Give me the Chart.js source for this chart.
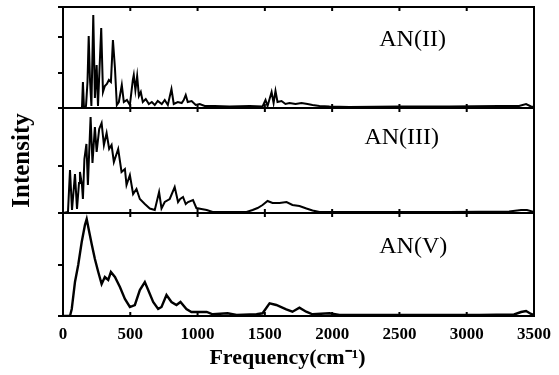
<!DOCTYPE html>
<html>
<head>
<meta charset="utf-8">
<script src="https://cdn.jsdelivr.net/npm/chart.js@4"></script>
<style>
  html, body { margin: 0; padding: 0; background: #fff; }
  #wrap { width: 559px; height: 375px; }
</style>
</head>
<body>
<div id="wrap"><canvas id="spectra"></canvas></div>
<script>
// panel names, top to bottom
const panelLabels = ['AN(II)', 'AN(III)', 'AN(V)'];

// AN(II) - frequency (cm-1) / intensity (arb.)
const anIIFreq = [0, 89, 141, 148, 156, 171, 182, 191, 200, 211, 225, 237, 250, 260, 284, 297, 311, 326, 341, 356,
  371, 386, 400, 415, 437, 452, 475, 497, 519, 526, 538, 551, 564, 578, 593, 615, 638, 660, 682, 704,
  734, 756, 779, 806, 823, 853, 882, 897, 912, 927, 956, 986, 1016, 1053, 1127, 1238, 1387, 1483, 1505, 1520,
  1550, 1565, 1579, 1594, 1624, 1653, 1683, 1728, 1772, 1817, 1854, 1906, 1980, 2128, 2499, 2870, 3240, 3389, 3441, 3478, 3500];
const anIIInt = [0, 0, 0, 26, 0, 2, 26, 72, 30, 2, 93, 10, 43, 2, 80, 16, 22, 24, 28, 26,
  68, 40, 3, 6, 23, 6, 8, 3, 28, 33, 18, 32, 12, 16, 6, 9, 4, 6, 3, 7,
  4, 8, 3, 19, 4, 6, 5, 8, 13, 6, 7, 3, 4, 2, 2, 1.5, 2, 1.5, 8, 2,
  16, 5, 17, 6, 7, 4, 5, 4, 5, 4, 3, 2, 1.5, 1, 1.5, 1.5, 2, 2, 4, 1.5, 1];

// AN(III)
const anIIIFreq = [0, 37, 52, 67, 89, 104, 119, 126, 141, 148, 159, 174, 185, 205, 219, 237, 250, 269, 287, 304,
  324, 343, 361, 378, 410, 435, 460, 472, 497, 521, 546, 571, 608, 645, 682, 714, 732, 756, 793, 830,
  855, 871, 892, 912, 929, 966, 991, 1028, 1068, 1112, 1238, 1364, 1409, 1446, 1483, 1520, 1557, 1609, 1661, 1705,
  1757, 1809, 1854, 1906, 2128, 2870, 3315, 3404, 3448, 3500];
const anIIIInt = [0, 1, 43, 3, 39, 4, 30, 41, 28, 14, 54, 69, 28, 96, 50, 86, 61, 84, 90, 68,
  80, 64, 68, 51, 64, 41, 44, 28, 38, 19, 24, 14, 9, 4.5, 3, 21, 4.5, 11, 14, 26,
  11, 14, 16, 9, 11, 13, 5, 4, 3, 1, 1, 1, 3, 5, 8, 12, 10, 10, 11, 8,
  7, 4.5, 2.5, 1, 1, 1, 1.5, 3, 3, 1];

// AN(V)
const anVFreq = [0, 52, 65, 89, 113, 139, 163, 176, 195, 213, 237, 262, 287, 311, 336, 356, 386, 423, 460, 497,
  534, 571, 608, 633, 670, 707, 732, 769, 806, 843, 873, 917, 954, 1016, 1068, 1112, 1223, 1290, 1438, 1483,
  1535, 1585, 1659, 1705, 1757, 1807, 1854, 1980, 2054, 2499, 3092, 3352, 3404, 3441, 3478, 3500];
const anVInt = [0, 0, 7, 34, 51, 74, 91, 97, 84, 72, 57, 44, 32, 39, 36, 44, 39, 29, 17, 9,
  11, 26, 34, 26, 14, 7, 9, 21, 14, 11, 14, 7, 4, 4, 4, 1.7, 2.7, 1, 1.7, 2.7,
  12.7, 11, 6.7, 4.3, 8.3, 4.3, 1.7, 2.7, 1, 1, 1, 1.5, 4, 5, 2, 1];

const serif = 'Liberation Serif';
const toPoints = (fx, fy) => fx.map((f, i) => ({x: f, y: fy[i]}));

// frame + inward x ticks + panel names
const framePlugin = {
  id: 'frames',
  afterDraw(chart) {
    const {ctx, chartArea: a, scales} = chart;
    const xs = scales.x;
    const labelX = [2350, 2240, 2350];
    const labelDy = [33, 30, 34];
    ctx.save();
    ctx.strokeStyle = '#000';
    ctx.fillStyle = '#000';
    ctx.lineWidth = 2;
    ['y1', 'y2', 'y3'].forEach((id, i) => {
      const s = scales[id];
      ctx.strokeRect(a.left, s.top, a.right - a.left, s.bottom - s.top);
      ctx.beginPath();
      xs.ticks.forEach(t => {
        const px = xs.getPixelForValue(t.value);
        ctx.moveTo(px, s.top);
        ctx.lineTo(px, s.top + 4);
        ctx.moveTo(px, s.bottom);
        ctx.lineTo(px, s.bottom - 4);
      });
      ctx.stroke();
      ctx.font = '24px "' + serif + '"';
      ctx.textBaseline = 'middle';
      ctx.fillText(panelLabels[i], xs.getPixelForValue(labelX[i]), s.top + labelDy[i]);
    });
    ctx.restore();
  }
};

function panelAxis(max, step, weight) {
  return {
    type: 'linear',
    position: 'left',
    stack: 'panels',
    stackWeight: max,
    weight: weight,
    min: 0,
    max: max,
    ticks: { display: false, stepSize: step },
    grid: { drawOnChartArea: false, tickLength: 5, color: '#000', lineWidth: 2 },
    border: { display: false }
  };
}

const y2Axis = panelAxis(105, 47.5, 2);
y2Axis.title = {
  display: true,
  text: 'Intensity',
  color: '#000',
  font: { family: serif, size: 25, weight: 'bold' },
  padding: { top: 8, bottom: 20 }
};

const lineStyle = { borderColor: '#000', borderWidth: 2, pointRadius: 0, tension: 0, fill: false };

new Chart(document.getElementById('spectra'), {
  type: 'line',
  data: {
    datasets: [
      Object.assign({ label: panelLabels[0], data: toPoints(anIIFreq, anIIInt), yAxisID: 'y1' }, lineStyle),
      Object.assign({ label: panelLabels[1], data: toPoints(anIIIFreq, anIIIInt), yAxisID: 'y2' }, lineStyle),
      Object.assign({}, lineStyle, { label: panelLabels[2], data: toPoints(anVFreq, anVInt), yAxisID: 'y3', borderWidth: 2.4 })
    ]
  },
  options: {
    responsive: true,
    maintainAspectRatio: false,
    animation: false,
    layout: { padding: { left: 0, right: 24, top: 7, bottom: 0 } },
    plugins: { legend: { display: false }, tooltip: { enabled: false } },
    scales: {
      x: {
        type: 'linear',
        min: 0,
        max: 3500,
        afterFit: scale => { scale.height = 59; },
        ticks: { stepSize: 500, color: '#000', padding: 8, maxRotation: 0,
          callback: v => String(v),
          font: { family: serif, size: 17, weight: 'bold' } },
        grid: { display: false, drawTicks: false, tickLength: 0 },
        border: { display: false },
        title: { display: true, text: 'Frequency(cm⁻¹)    ', color: '#000',
          font: { family: serif, size: 22, weight: 'bold' }, padding: { top: 0, bottom: 3 } }
      },
      y1: panelAxis(101, 35.5, 3),
      y2: y2Axis,
      y3: panelAxis(103, 51, 1)
    }
  },
  plugins: [framePlugin]
});
</script>
</body>
</html>
